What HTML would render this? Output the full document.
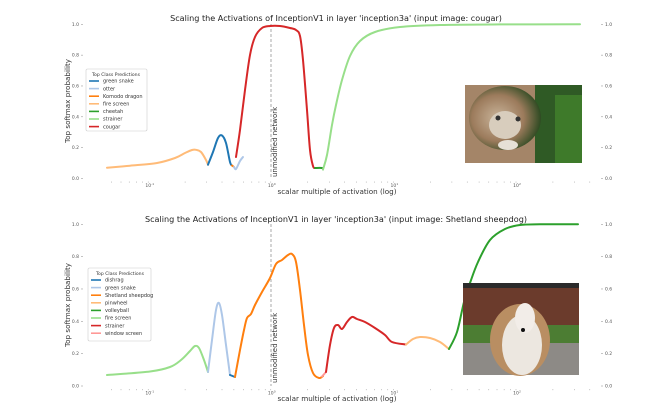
<!DOCTYPE html>
<html><head><meta charset="utf-8"><style>
html,body{margin:0;padding:0;background:#fff;}
svg{display:block;font-family:"DejaVu Sans","Liberation Sans",sans-serif;}
</style></head><body>
<svg id="s" width="670" height="409" viewBox="0 0 670 409" xmlns="http://www.w3.org/2000/svg">
<defs>
<radialGradient id="cg" cx="0.4" cy="0.5" r="0.6"><stop offset="0" stop-color="#c9b49a"/><stop offset="0.6" stop-color="#9c7b5c"/><stop offset="1" stop-color="#2e4a22"/></radialGradient>
</defs>
<rect width="670" height="409" fill="#fff"/>
<text x="336" y="21" font-size="8.1" text-anchor="middle" fill="#222">Scaling the Activations of InceptionV1 in layer 'inception3a' (input image: cougar)</text>
<text x="336" y="222" font-size="8.1" text-anchor="middle" fill="#222">Scaling the Activations of InceptionV1 in layer 'inception3a' (input image: Shetland sheepdog)</text>
<text x="337" y="194" font-size="7.2" text-anchor="middle" fill="#333">scalar multiple of activation (log)</text>
<text x="337" y="401" font-size="7.2" text-anchor="middle" fill="#333">scalar multiple of activation (log)</text>
<text transform="translate(70,101) rotate(-90)" font-size="7.2" text-anchor="middle" fill="#333">Top softmax probability</text>
<text transform="translate(70,305) rotate(-90)" font-size="7.2" text-anchor="middle" fill="#333">Top softmax probability</text>
<line x1="271" y1="24" x2="271" y2="179" stroke="#aaa" stroke-width="1" stroke-dasharray="3,2"/>
<line x1="271" y1="224" x2="271" y2="386" stroke="#aaa" stroke-width="1" stroke-dasharray="3,2"/>
<text transform="translate(277,177) rotate(-90)" font-size="7" fill="#333">unmodified network</text>
<text transform="translate(277,383) rotate(-90)" font-size="7" fill="#333">unmodified network</text>
<g id="ticks"></g>
<g id="curves" fill="none" stroke-width="2" stroke-linecap="round" stroke-linejoin="round"></g>
<rect x="465" y="85" width="117" height="78" fill="#2f5a25"/>
<rect x="465" y="85" width="70" height="78" fill="#a48568"/>
<ellipse cx="505" cy="118" rx="36" ry="32" fill="url(#cg)"/>
<ellipse cx="505" cy="125" rx="16" ry="14" fill="#d8cdbd"/>
<circle cx="498" cy="118" r="2.5" fill="#333"/><circle cx="518" cy="119" r="2.5" fill="#333"/>
<ellipse cx="508" cy="145" rx="10" ry="5" fill="#e6e0d6"/>
<rect x="555" y="95" width="27" height="68" fill="#3e7a2a"/>
<rect x="463" y="283" width="116" height="92" fill="#6b3b2c"/>
<rect x="463" y="283" width="116" height="5" fill="#2b2b2b"/>
<rect x="463" y="325" width="116" height="30" fill="#4c7d33"/>
<rect x="463" y="343" width="116" height="32" fill="#8d8a86"/>
<ellipse cx="520" cy="340" rx="30" ry="36" fill="#b98e62"/>
<ellipse cx="522" cy="345" rx="20" ry="30" fill="#ece7e0"/>
<ellipse cx="525" cy="318" rx="10" ry="15" fill="#f2ede8"/>
<circle cx="523" cy="330" r="2" fill="#111"/>
<g font-size="5" fill="#333">
<rect x="86" y="69" width="61" height="62" fill="#fff" stroke="#ccc" stroke-width="0.6" rx="1.5"/>
<text x="116" y="76" text-anchor="middle" font-size="4.6">Top Class Predictions</text>
<rect x="88" y="268" width="63" height="73" fill="#fff" stroke="#ccc" stroke-width="0.6" rx="1.5"/>
<text x="120" y="275" text-anchor="middle" font-size="4.6">Top Class Predictions</text>
<g id="leg"></g>
</g>
</svg>
<script>
const ns="http://www.w3.org/2000/svg";
function el(t,a,p){const e=document.createElementNS(ns,t);for(const k in a)e.setAttribute(k,a[k]);p.appendChild(e);return e;}
const T=document.getElementById('ticks');
function X(L){return 270.8+122.6*L;}
[[24.3,178.5],[224.3,386]].forEach(([y1,y0])=>{
  for(let i=0;i<=5;i++){const y=y0-(y0-y1)*i/5,lab=(i/5).toFixed(1);
    el('line',{x1:81,x2:83,y1:y,y2:y,stroke:'#888','stroke-width':0.5},T);
    let t=el('text',{x:79,y:y+1.5,'font-size':4.5,'text-anchor':'end',fill:'#555'},T);t.textContent=lab;
    el('line',{x1:601,x2:603,y1:y,y2:y,stroke:'#888','stroke-width':0.5},T);
    t=el('text',{x:605,y:y+1.5,'font-size':4.5,fill:'#555'},T);t.textContent=lab;}
  for(let d=-2;d<=2;d++)for(let m=1;m<10;m++){const x=X(d+Math.log10(m));if(x<100||x>600)continue;
    el('line',{x1:x,x2:x,y1:y0+3,y2:y0+4.2,stroke:'#999','stroke-width':0.5},T);
    if(m==1){let t=el('text',{x:x,y:y0+8.5,'font-size':4.5,'text-anchor':'middle',fill:'#555'},T);t.textContent='10';
      t=el('text',{x:x+3,y:y0+6.5,'font-size':3,fill:'#555'},T);t.textContent=String(d);}}
});
function path(pts){let d='M'+pts[0].join(',');for(let i=0;i<pts.length-1;i++){const p0=pts[i-1]||pts[i],p1=pts[i],p2=pts[i+1],p3=pts[i+2]||p2;
 d+=` C${p1[0]+(p2[0]-p0[0])/6},${p1[1]+(p2[1]-p0[1])/6} ${p2[0]-(p3[0]-p1[0])/6},${p2[1]-(p3[1]-p1[1])/6} ${p2[0]},${p2[1]}`;}return d;}
const C=document.getElementById('curves');
const segs=[
['#ffbb78',[[107,167.7],[130,165.7],[157,163],[175,158],[185,153],[192,150],[196,149.8],[201,152],[206,160],[208,164.7]]],
['#1f77b4',[[208,164.7],[213,152],[218,138],[222,135.5],[226,143],[230,162],[232,165.5]]],
['#ff7f0e',[[232,165.5],[234,167]]],
['#aec7e8',[[234,167],[236,169],[240,161],[243,157]]],
['#d62728',[[236,157],[240,130],[245,90],[250,55],[255,37],[262,28],[270,26],[280,26],[290,28],[296,30],[300,36],[303,60],[307,110],[310,150],[313,166],[315,168]]],
['#2ca02c',[[315,168],[322,168],[323,169.5]]],
['#98df8a',[[323,169.5],[327,155],[332,125],[336,105],[342,80],[350,56],[360,41],[375,32],[400,27],[440,25],[500,24.4],[580,24.3]]],
['#98df8a',[[107,375],[150,371.5],[170,367],[181,360],[190,351],[195,346],[199,348],[204,360],[208,372]]],
['#aec7e8',[[208,372],[212,340],[216,310],[219,303],[222,315],[226,345],[230,375]]],
['#1f77b4',[[230,375],[235,377]]],
['#ff7f0e',[[235,377],[240,350],[244,330],[247,318],[251,314],[255,305],[262,292],[270,278],[276,264],[282,260],[288,255],[292,254],[296,262],[300,290],[304,325],[308,355],[313,373],[319,378],[323,376]]],
['#ff9896',[[322,376.5],[326,372]]],
['#d62728',[[326,372],[330,345],[334,328],[338,325],[342,329],[347,322],[352,317],[357,319],[365,322],[375,328],[385,335],[392,342],[406,344.5]]],
['#ffbb78',[[406,344.5],[413,339],[420,337],[430,338],[440,342],[449,349]]],
['#2ca02c',[[449,349],[457,332],[464,302],[470,283],[478,262],[490,240],[505,229],[520,225],[540,224.3],[578,224.3]]]
];
segs.forEach(([c,p])=>el('path',{d:path(p),stroke:c},C));
const G=document.getElementById('leg');
function leg(x,y,items){items.forEach((it,i)=>{const yy=y+i*7.6;el('line',{x1:x,x2:x+10,y1:yy,y2:yy,stroke:it[0],'stroke-width':1.6},G);
 const t=el('text',{x:x+14,y:yy+1.7,'font-size':5,fill:'#333'},G);t.textContent=it[1];});}
leg(89,81,[['#1f77b4','green snake'],['#aec7e8','otter'],['#ff7f0e','Komodo dragon'],['#ffbb78','fire screen'],['#2ca02c','cheetah'],['#98df8a','strainer'],['#d62728','cougar']]);
leg(91,280,[['#1f77b4','dishrag'],['#aec7e8','green snake'],['#ff7f0e','Shetland sheepdog'],['#ffbb78','pinwheel'],['#2ca02c','volleyball'],['#98df8a','fire screen'],['#d62728','strainer'],['#ff9896','window screen']]);
</script>
</body></html>
